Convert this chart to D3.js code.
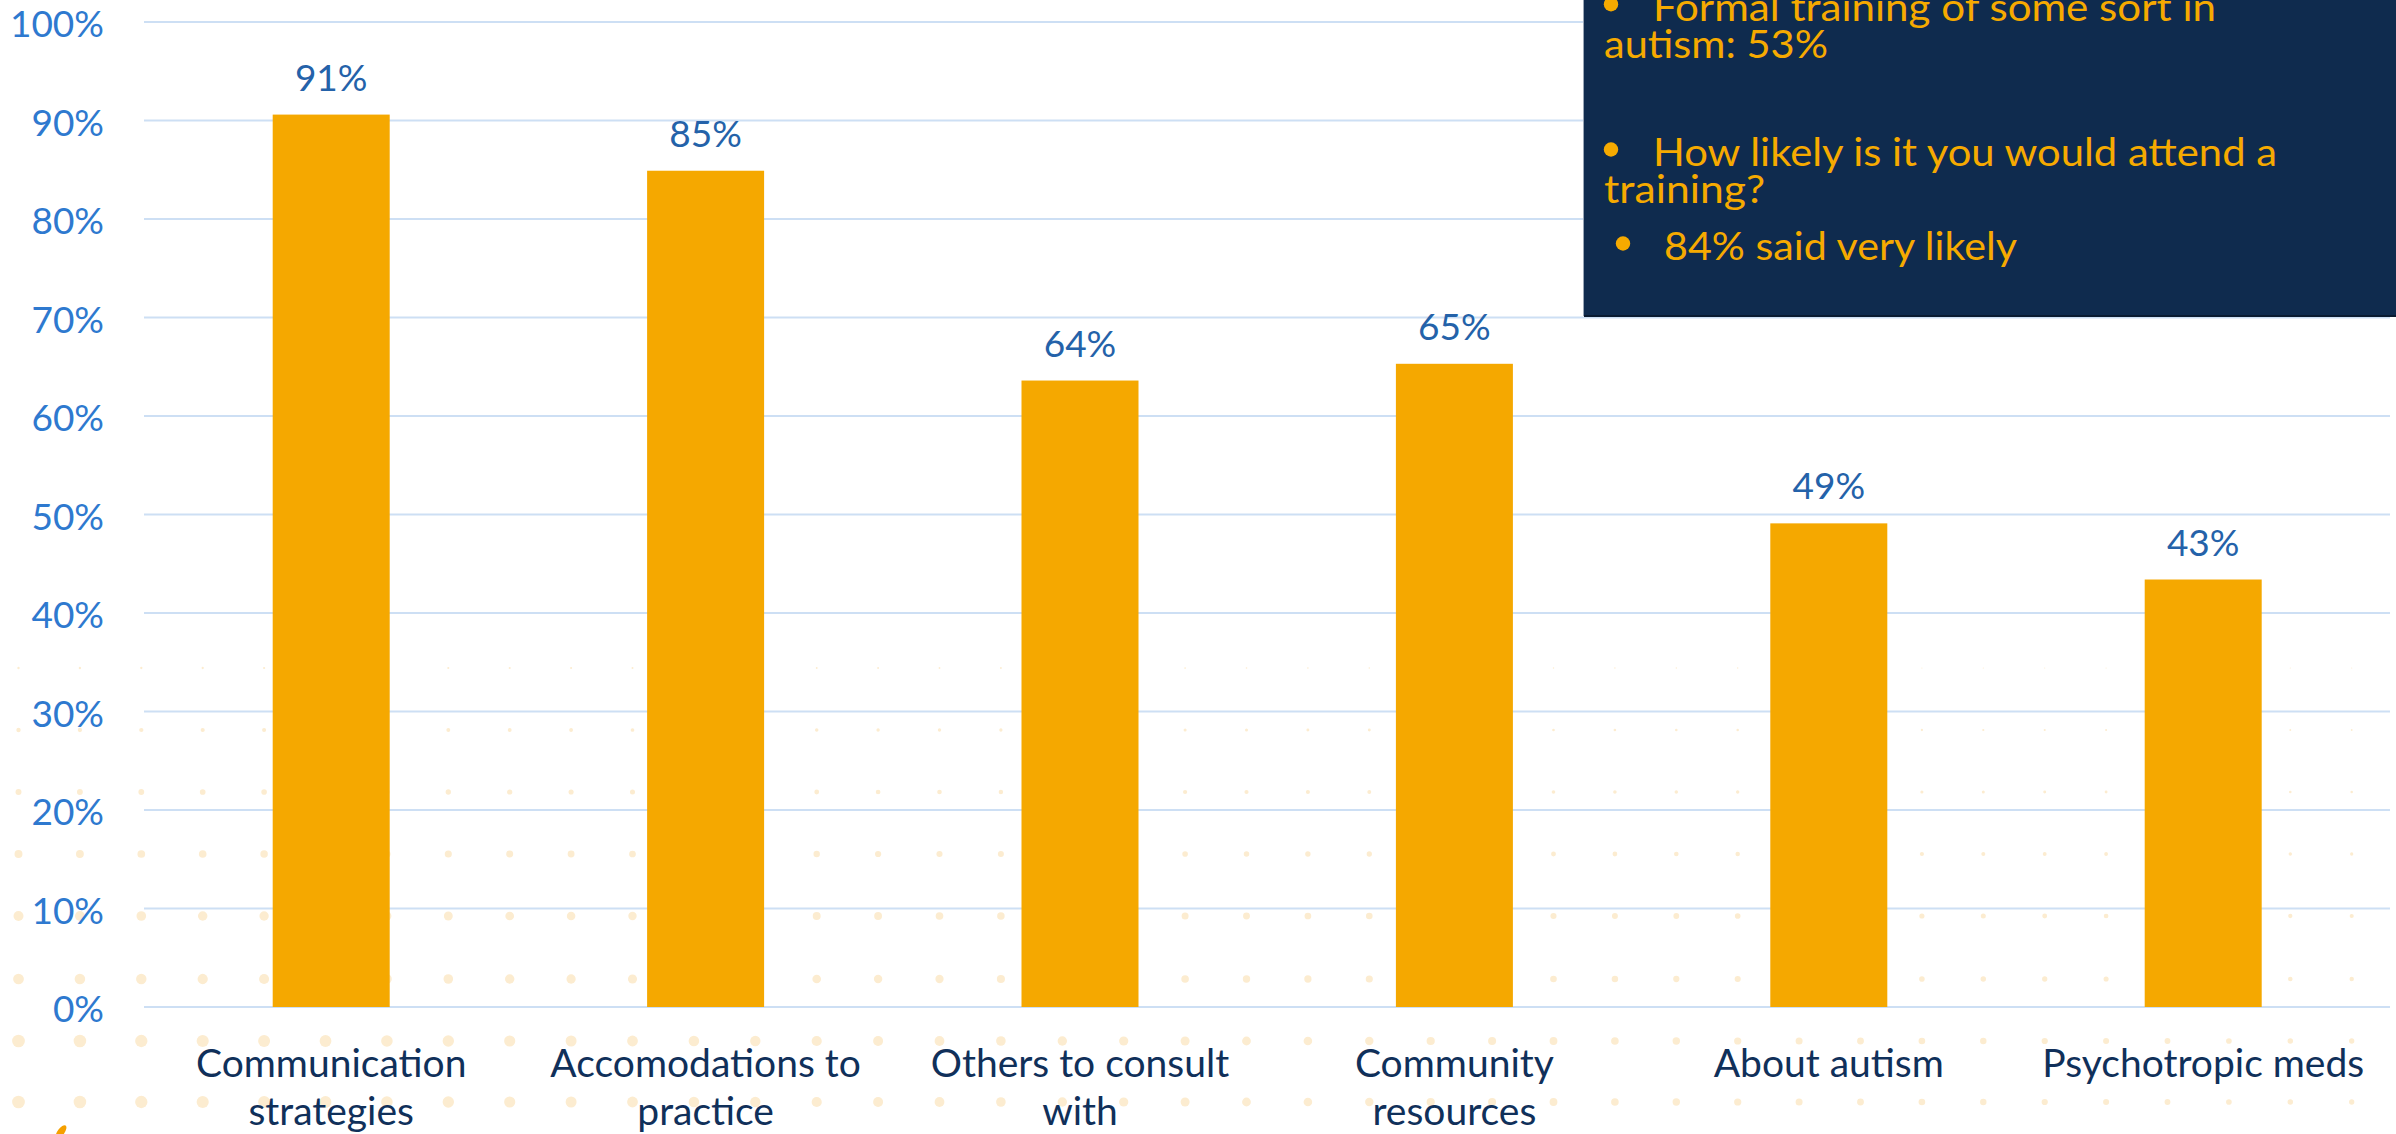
<!DOCTYPE html>
<html>
<head>
<meta charset="utf-8">
<script src="https://cdn.jsdelivr.net/npm/d3@7"></script>
<style>
  html, body { margin: 0; padding: 0; background: #ffffff; overflow: hidden; }
  svg { display: block; }
  text { font-family: Lato, "Open Sans", "Noto Sans", sans-serif; }
</style>
</head>
<body>
<svg id="chart" width="2396" height="1134"></svg>
<script>
// ---- data ----
const categories = [
  "Communication strategies",
  "Accomodations to practice",
  "Others to consult with",
  "Community resources",
  "About autism",
  "Psychotropic meds"
];
const categoryLines = [
  ["Communication", "strategies"],
  ["Accomodations to", "practice"],
  ["Others to consult", "with"],
  ["Community", "resources"],
  ["About autism"],
  ["Psychotropic meds"]
];
const values = [0.906, 0.849, 0.636, 0.653, 0.491, 0.434];
const yTicks = [0, 0.1, 0.2, 0.3, 0.4, 0.5, 0.6, 0.7, 0.8, 0.9, 1.0];

const noteLines = [
  { bullet: true,  indent: 1, text: "Formal training of some sort in" },
  { bullet: false, indent: 0, text: "autism: 53%" },
  { bullet: true,  indent: 1, text: "How likely is it you would attend a" },
  { bullet: false, indent: 0, text: "training?" },
  { bullet: true,  indent: 2, text: "84% said very likely" }
];

// ---- layout ----
const W = 2396, H = 1134;
const svg = d3.select("#chart");

const x = d3.scaleBand()
  .domain(categories)
  .range([144, 2390.4])
  .paddingInner(0.6875)
  .paddingOuter(0.34375);

const y = d3.scaleLinear().domain([0, 1]).range([1007, 22]);

// ---- decorative dotted background ----
const dotRowY = [668, 730, 792, 854, 916, 979, 1041, 1102];
const dotRowR = [1.2, 2.2, 3.0, 4.0, 5.0, 5.4, 6.4, 6.4];
const dotG = svg.append("g").attr("class", "dots");
dotRowY.forEach((ry, i) => {
  for (let cx = 18.5; cx < W; cx += 61.4) {
    const r = dotRowR[i] * (1 - 0.6 * cx / W);
    dotG.append("circle")
      .attr("cx", cx).attr("cy", ry).attr("r", Math.max(r, 0.6))
      .attr("fill", "#fcecd0");
  }
});

// ---- gridlines ----
svg.append("g")
  .attr("class", "grid")
  .selectAll("line")
  .data(yTicks)
  .join("line")
  .attr("x1", 144).attr("x2", 2390)
  .attr("y1", d => y(d)).attr("y2", d => y(d))
  .attr("stroke", "#cddff4")
  .attr("stroke-width", 2.2);

// ---- y axis labels ----
const yAxis = d3.axisLeft(y).tickValues(yTicks).tickFormat(d3.format(".0%")).tickSize(0).tickPadding(0);
const yAxisG = svg.append("g").attr("transform", "translate(104,0)").call(yAxis);
yAxisG.select(".domain").remove();
yAxisG.selectAll("text")
  .attr("font-family", "Lato, 'Open Sans', sans-serif")
  .attr("font-size", 37)
  .attr("fill", "#2e79cf")
  .attr("dy", null)
  .attr("dominant-baseline", "central");

// ---- bars ----
svg.append("g")
  .selectAll("rect")
  .data(values)
  .join("rect")
  .attr("x", (d, i) => x(categories[i]))
  .attr("width", x.bandwidth())
  .attr("y", d => y(d))
  .attr("height", d => y(0) - y(d))
  .attr("fill", "#f5a800");

// ---- value labels ----
svg.append("g")
  .selectAll("text")
  .data(values)
  .join("text")
  .attr("x", (d, i) => x(categories[i]) + x.bandwidth() / 2)
  .attr("y", d => y(d) - 24)
  .attr("text-anchor", "middle")
  .attr("font-size", 37)
  .attr("fill", "#2462a9")
  .text(d => d3.format(".0%")(d));

// ---- category labels ----
const catG = svg.append("g");
categories.forEach((c, i) => {
  const t = catG.append("text")
    .attr("x", x(c) + x.bandwidth() / 2)
    .attr("y", 1077)
    .attr("text-anchor", "middle")
    .attr("font-size", 39)
    .attr("fill", "#10305a");
  categoryLines[i].forEach((ln, j) => {
    t.append("tspan")
      .attr("x", x(c) + x.bandwidth() / 2)
      .attr("dy", j === 0 ? 0 : 48)
      .text(ln);
  });
});

// ---- small logo fragment bottom-left ----
svg.append("ellipse")
  .attr("cx", 61).attr("cy", 1132).attr("rx", 3.5).attr("ry", 8)
  .attr("transform", "rotate(35,61,1132)")
  .attr("fill", "#f5a000");

// ---- note box ----
const box = svg.append("g");
box.append("rect")
  .attr("x", 1584).attr("y", -2).attr("width", W - 1584 + 2).attr("height", 318)
  .attr("fill", "#0f2b4e");
box.append("line")
  .attr("x1", 1584).attr("x2", W).attr("y1", 316).attr("y2", 316)
  .attr("stroke", "#0a1b31").attr("stroke-width", 2);
box.append("line")
  .attr("x1", 1583.5).attr("x2", 1583.5).attr("y1", 0).attr("y2", 316)
  .attr("stroke", "#9aa6b6").attr("stroke-width", 1);

const noteBaselines = [20.7, 58.3, 166, 203.3, 260];
const noteWidths = [563, 224, 624, 161, 353];
const textX = [1604, 1653, 1664];
const bulletX = [1611, 1611, 1623];
noteLines.forEach((ln, i) => {
  if (ln.bullet) {
    box.append("circle")
      .attr("cx", bulletX[ln.indent]).attr("cy", noteBaselines[i] - 16.5)
      .attr("r", 7.2).attr("fill", "#f6aa00");
  }
  box.append("text")
    .attr("x", textX[ln.indent])
    .attr("y", noteBaselines[i])
    .attr("font-size", 39)
    .attr("fill", "#f6aa00")
    .attr("textLength", noteWidths[i])
    .attr("lengthAdjust", "spacingAndGlyphs")
    .text(ln.text);
});
</script>
</body>
</html>
